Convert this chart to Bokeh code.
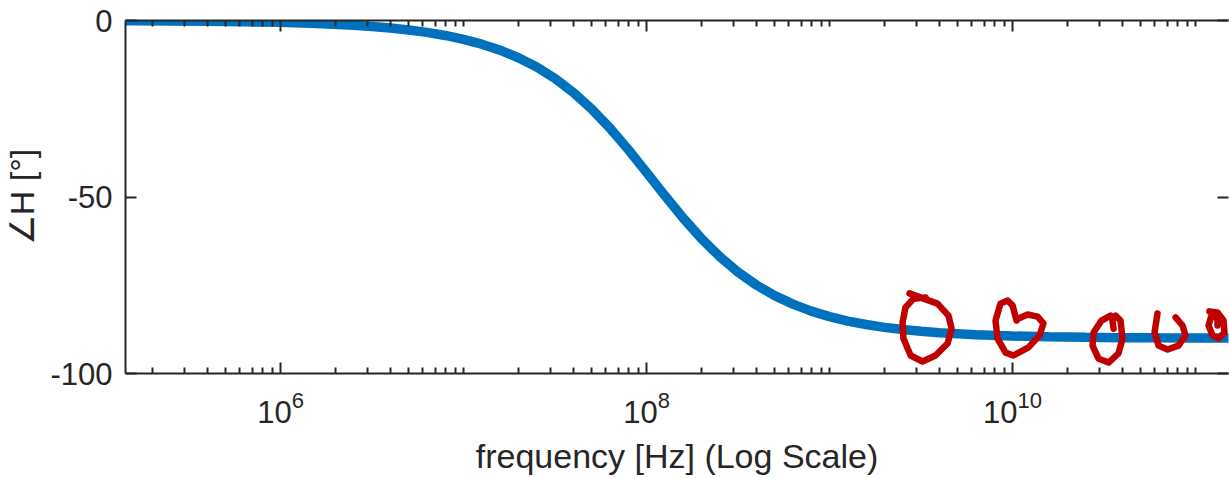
import math
from bokeh.plotting import figure
from bokeh.models import FixedTicker, LogAxis, LinearAxis, Range1d, CustomJSTickFormatter
from bokeh.embed import file_html
from bokeh.resources import INLINE

# ---- data ----
freq_hz = [1.000e5, 1.585e5, 2.512e5, 3.981e5, 6.310e5,
           1.000e6, 1.585e6, 2.512e6, 3.162e6, 3.981e6, 5.012e6, 6.310e6, 7.943e6,
           1.000e7, 1.259e7, 1.585e7, 1.995e7, 2.512e7, 3.162e7, 3.981e7, 5.012e7, 6.310e7, 7.943e7,
           1.000e8, 1.259e8, 1.585e8, 1.995e8, 2.512e8, 3.162e8, 3.981e8, 5.012e8, 6.310e8, 7.943e8,
           1.000e9, 1.259e9, 1.585e9, 1.995e9, 2.512e9, 3.162e9, 3.981e9, 6.310e9,
           1.000e10, 1.585e10, 2.512e10, 3.981e10, 6.310e10,
           1.000e11, 1.585e11, 2.512e11]
phase_deg = [-0.05, -0.08, -0.13, -0.21, -0.34,
             -0.53, -0.85, -1.34, -1.69, -2.13, -2.68, -3.37, -4.24,
             -5.33, -6.70, -8.41, -10.55, -13.19, -16.44, -20.38, -25.07, -30.49, -36.55,
             -43.02, -49.60, -55.94, -61.76, -66.90, -71.29, -74.93, -77.93, -80.36, -82.32,
             -83.88, -85.14, -86.13, -86.93, -87.56, -88.06, -88.46, -89.03,
             -89.39, -89.61, -89.76, -89.85, -89.90,
             -89.94, -89.96, -89.98]

x_major_ticks = [1e6, 1e8, 1e10]
x_tick_base = "10"
x_tick_exps = ["6", "8", "10"]
x_minor_ticks = [m * 10.0 ** k for k in range(5, 12) for m in range(1, 10)
                 if not (m == 1 and k % 2 == 0)]
y_ticks = [-100, -50, 0]
y_tick_labels = ["-100", "-50", "0"]

# hand-drawn red annotations (log10 frequency, degrees)
scrib1_lx = [9.437, 9.514, 9.590, 9.650, 9.667, 9.645, 9.579, 9.508, 9.443, 9.404, 9.399, 9.415, 9.459, 9.525]
scrib1_y = [-77.3, -78.8, -80.2, -83.6, -87.3, -91.5, -94.9, -96.6, -94.9, -90.1, -85.6, -81.3, -78.8, -78.5]
scrib2_lx = [10.022, 10.000, 9.973, 9.934, 9.907, 9.918, 9.962, 10.005, 10.087, 10.148, 10.169, 10.137, 10.082, 10.033]
scrib2_y = [-85.0, -80.7, -79.3, -80.2, -85.0, -90.1, -94.1, -94.9, -92.6, -89.2, -85.8, -83.9, -83.3, -84.4]
scrib3_lx = [10.552, 10.546, 10.563, 10.590, 10.601, 10.579, 10.525, 10.470, 10.437, 10.443, 10.486, 10.536]
scrib3_y = [-87.3, -85.0, -83.6, -85.0, -90.1, -94.3, -96.9, -95.8, -92.1, -88.4, -85.0, -83.6]
scrib4_lx = [10.792, 10.776, 10.798, 10.847, 10.907, 10.945, 10.929, 10.891]
scrib4_y = [-83.0, -88.4, -92.1, -93.2, -92.1, -89.2, -86.4, -84.1]
scrib5_lx = [11.076, 11.120, 11.153, 11.158, 11.126, 11.093, 11.071, 11.087, 11.120, 11.120]
scrib5_y = [-82.4, -82.7, -85.0, -88.4, -90.1, -89.2, -86.4, -83.6, -84.4, -86.4]
scribbles = [(scrib1_lx, scrib1_y), (scrib2_lx, scrib2_y), (scrib3_lx, scrib3_y),
             (scrib4_lx, scrib4_y), (scrib5_lx, scrib5_y)]

# ---- styling / layout ----
AX = "#262626"
FONT = "Liberation Sans"
BLUE = "#0072BD"
RED = "#C00000"
TICK_PX = 31
SUP_PX = 22
W, H = 1229, 478
BL, BR, BT, BB = 125, 1, 20, 105
X0, X1 = 1.422e5, 1.514e11

p = figure(width=W, height=H, x_axis_type="log",
           x_range=Range1d(X0, X1), y_range=Range1d(-100, 0),
           output_backend="svg", toolbar_location=None,
           min_border_left=BL, min_border_right=BR, min_border_top=BT, min_border_bottom=BB)
p.xgrid.visible = False
p.ygrid.visible = False
p.outline_line_color = None
p.background_fill_color = "white"
p.border_fill_color = "white"

x_ticker = FixedTicker(ticks=x_major_ticks, minor_ticks=x_minor_ticks)
y_ticker = FixedTicker(ticks=y_ticks, minor_ticks=[])


def style(ax, labels=True, font_px=TICK_PX):
    ax.axis_line_color = AX
    ax.axis_line_width = 2
    ax.major_tick_line_color = AX
    ax.major_tick_line_width = 2
    ax.minor_tick_line_color = AX
    ax.minor_tick_line_width = 2
    ax.major_tick_in = 11
    ax.major_tick_out = 0
    ax.minor_tick_in = 6
    ax.minor_tick_out = 0
    ax.major_label_text_font = FONT
    ax.major_label_text_color = AX
    ax.major_label_text_font_size = f"{font_px}px"
    ax.axis_label_text_font = FONT
    ax.axis_label_text_color = AX
    ax.axis_label_text_font_size = "34px"
    ax.axis_label_text_font_style = "normal"
    if not labels:
        ax.major_label_text_font_size = "0px"
        ax.major_label_standoff = 0
        ax.formatter = CustomJSTickFormatter(code="return ''")


def bare(ax):
    ax.axis_line_color = None
    ax.major_tick_line_color = None
    ax.minor_tick_line_color = None
    ax.major_tick_in = 0
    ax.major_tick_out = 0
    ax.minor_tick_in = 0
    ax.minor_tick_out = 0


# bottom axis with the tick marks only
xa = p.xaxis[0]
xa.ticker = x_ticker
style(xa, labels=False)

# tick labels "10" + raised exponent, centred as a whole on each major tick
px_per_dec = (W - BL - BR) / (math.log10(X1) - math.log10(X0))
base_w = 0.556 * TICK_PX * len(x_tick_base)
base_pos, sup_pos = [], []
for tick, ex in zip(x_major_ticks, x_tick_exps):
    sup_w = 0.556 * SUP_PX * len(ex)
    total = base_w + sup_w
    base_dx = -total / 2 + base_w / 2
    sup_dx = -total / 2 + base_w + sup_w / 2
    base_pos.append(tick * 10 ** (base_dx / px_per_dec))
    sup_pos.append(tick * 10 ** (sup_dx / px_per_dec))

sup_axis = LogAxis(ticker=FixedTicker(ticks=sup_pos, minor_ticks=[]),
                   formatter=CustomJSTickFormatter(args=dict(labels=x_tick_exps),
                                                   code="return labels[index]"))
style(sup_axis, font_px=SUP_PX)
bare(sup_axis)
sup_axis.major_label_standoff = 19
p.add_layout(sup_axis, "below")

base_axis = LogAxis(ticker=FixedTicker(ticks=base_pos, minor_ticks=[]),
                    formatter=CustomJSTickFormatter(args=dict(labels=[x_tick_base] * 3),
                                                    code="return labels[index]"))
style(base_axis)
bare(base_axis)
base_axis.major_label_standoff = -10
base_axis.axis_label = "frequency [Hz] (Log Scale)"
base_axis.axis_label_standoff = 11
p.add_layout(base_axis, "below")

ya = p.yaxis[0]
ya.ticker = y_ticker
ya.major_label_overrides = {v: s for v, s in zip(y_ticks, y_tick_labels)}
style(ya)
ya.minor_tick_line_color = None
ya.major_label_standoff = 13
ya.axis_label = "\u2220H [\u00b0]"
ya.axis_label_standoff = 6

top = LogAxis(ticker=x_ticker)
style(top, labels=False)
p.add_layout(top, "above")

right = LinearAxis(ticker=y_ticker)
style(right, labels=False)
right.minor_tick_line_color = None
right.axis_line_color = None
p.add_layout(right, "right")

p.line(freq_hz, phase_deg, line_width=9.5, line_color=BLUE)

for lx, yy in scribbles:
    p.line([10.0 ** v for v in lx], yy, line_width=6.5, line_color=RED,
           line_join="round", line_cap="round")

open("out.html", "w").write(file_html(p, INLINE))
